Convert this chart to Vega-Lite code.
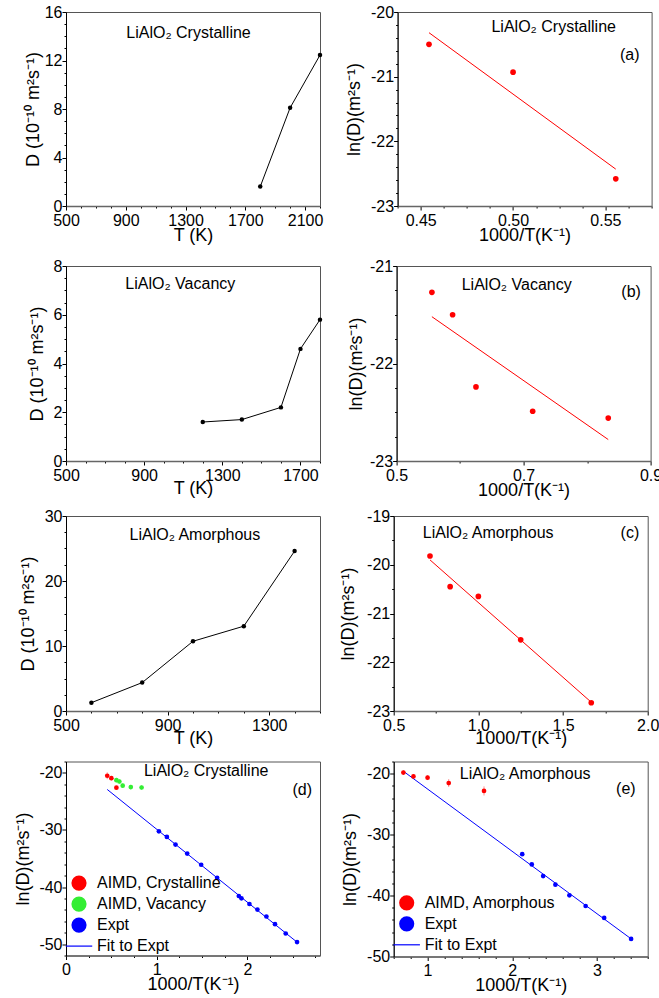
{
  "$schema": "https://vega.github.io/schema/vega-lite/v6.json",
  "padding": {"left": 13, "top": 3, "right": 0, "bottom": 0},
  "config": {
    "font": "Liberation Sans",
    "view": {"stroke": "#555", "strokeWidth": 1},
    "axis": {"grid": false, "domainColor": "#000", "tickColor": "#000", "labelColor": "#000", "titleColor": "#000", "labelFont": "Liberation Sans", "titleFont": "Liberation Sans", "labelFontSize": 16, "titleFontSize": 18, "titleFontWeight": "normal", "labelOverlap": false, "labelBound": false, "labelFlush": false, "labelPadding": 0, "titlePadding": 2},
    "axisX": {"domainColor": "#666", "domainWidth": 1.5, "labelPadding": 2, "titlePadding": -2}
  },
  "datasets": {
    "crys": [{"T": 1800, "D": 1.6}, {"T": 2000, "D": 8.1}, {"T": 2200, "D": 12.45}],
    "vac": [{"T": 1200, "D": 1.6}, {"T": 1400, "D": 1.7}, {"T": 1600, "D": 2.2}, {"T": 1700, "D": 4.6}, {"T": 1800, "D": 5.8}],
    "amor": [{"T": 600, "D": 1.28}, {"T": 800, "D": 4.37}, {"T": 1000, "D": 10.73}, {"T": 1200, "D": 13.05}, {"T": 1400, "D": 24.6}],
    "ln_crys": [{"invT": 0.4545, "lnD": -20.5}, {"invT": 0.5, "lnD": -20.93}, {"invT": 0.5556, "lnD": -22.58}],
    "fit_crys": [{"invT": 0.4545, "lnD": -20.32}, {"invT": 0.5556, "lnD": -22.43}],
    "ln_vac": [{"invT": 0.5556, "lnD": -21.27}, {"invT": 0.5882, "lnD": -21.5}, {"invT": 0.625, "lnD": -22.24}, {"invT": 0.7143, "lnD": -22.49}, {"invT": 0.8333, "lnD": -22.56}],
    "fit_vac": [{"invT": 0.5556, "lnD": -21.52}, {"invT": 0.8333, "lnD": -22.78}],
    "ln_amor": [{"invT": 0.7143, "lnD": -19.82}, {"invT": 0.8333, "lnD": -20.45}, {"invT": 1.0, "lnD": -20.65}, {"invT": 1.25, "lnD": -21.54}, {"invT": 1.6667, "lnD": -22.83}],
    "fit_amor": [{"invT": 0.7143, "lnD": -19.9}, {"invT": 1.6667, "lnD": -22.82}],
    "d_pts": [
      {"series": "AIMD, Crystalline", "invT": 0.4545, "lnD": -20.5},
      {"series": "AIMD, Crystalline", "invT": 0.5, "lnD": -20.93},
      {"series": "AIMD, Crystalline", "invT": 0.5556, "lnD": -22.58},
      {"series": "AIMD, Vacancy", "invT": 0.5556, "lnD": -21.27},
      {"series": "AIMD, Vacancy", "invT": 0.5882, "lnD": -21.5},
      {"series": "AIMD, Vacancy", "invT": 0.625, "lnD": -22.24},
      {"series": "AIMD, Vacancy", "invT": 0.7143, "lnD": -22.49},
      {"series": "AIMD, Vacancy", "invT": 0.8333, "lnD": -22.56},
      {"series": "Expt", "invT": 1.024, "lnD": -30.23},
      {"series": "Expt", "invT": 1.112, "lnD": -31.22},
      {"series": "Expt", "invT": 1.207, "lnD": -32.56},
      {"series": "Expt", "invT": 1.336, "lnD": -34.13},
      {"series": "Expt", "invT": 1.49, "lnD": -36.1},
      {"series": "Expt", "invT": 1.666, "lnD": -38.37},
      {"series": "Expt", "invT": 1.905, "lnD": -41.57},
      {"series": "Expt", "invT": 1.934, "lnD": -41.98},
      {"series": "Expt", "invT": 2.022, "lnD": -42.97},
      {"series": "Expt", "invT": 2.11, "lnD": -43.95},
      {"series": "Expt", "invT": 2.209, "lnD": -45.17},
      {"series": "Expt", "invT": 2.304, "lnD": -46.51},
      {"series": "Expt", "invT": 2.422, "lnD": -48.14},
      {"series": "Expt", "invT": 2.547, "lnD": -49.65}
    ],
    "d_err": [
      {"series": "AIMD, Crystalline", "invT": 0.4545, "lo": -21.1, "hi": -19.9},
      {"series": "AIMD, Crystalline", "invT": 0.5, "lo": -21.33, "hi": -20.53},
      {"series": "AIMD, Crystalline", "invT": 0.5556, "lo": -22.88, "hi": -22.28},
      {"series": "AIMD, Vacancy", "invT": 0.5556, "lo": -21.67, "hi": -20.87},
      {"series": "AIMD, Vacancy", "invT": 0.5882, "lo": -21.9, "hi": -21.1},
      {"series": "AIMD, Vacancy", "invT": 0.625, "lo": -22.64, "hi": -21.84},
      {"series": "AIMD, Vacancy", "invT": 0.7143, "lo": -22.89, "hi": -22.09},
      {"series": "AIMD, Vacancy", "invT": 0.8333, "lo": -22.96, "hi": -22.16}
    ],
    "fit_d": [{"invT": 0.4545, "lnD": -22.9}, {"invT": 2.55, "lnD": -49.7}],
    "e_pts": [
      {"series": "AIMD, Amorphous", "invT": 0.7143, "lnD": -19.82},
      {"series": "AIMD, Amorphous", "invT": 0.8333, "lnD": -20.45},
      {"series": "AIMD, Amorphous", "invT": 1.0, "lnD": -20.65},
      {"series": "AIMD, Amorphous", "invT": 1.25, "lnD": -21.54},
      {"series": "AIMD, Amorphous", "invT": 1.6667, "lnD": -22.83},
      {"series": "Expt", "invT": 2.118, "lnD": -33.2},
      {"series": "Expt", "invT": 2.231, "lnD": -34.89},
      {"series": "Expt", "invT": 2.365, "lnD": -36.8},
      {"series": "Expt", "invT": 2.51, "lnD": -38.22},
      {"series": "Expt", "invT": 2.675, "lnD": -39.96},
      {"series": "Expt", "invT": 2.867, "lnD": -41.71},
      {"series": "Expt", "invT": 3.086, "lnD": -43.67},
      {"series": "Expt", "invT": 3.404, "lnD": -47.11}
    ],
    "e_err": [
      {"invT": 0.7143, "lo": -20.2, "hi": -19.44},
      {"invT": 0.8333, "lo": -20.85, "hi": -20.05},
      {"invT": 1.0, "lo": -21.05, "hi": -20.25},
      {"invT": 1.25, "lo": -22.19, "hi": -20.89},
      {"invT": 1.6667, "lo": -23.58, "hi": -22.08}
    ],
    "fit_e": [{"invT": 0.7143, "lnD": -19.6}, {"invT": 3.404, "lnD": -47.1}]
  },
  "spacing": 12,
  "resolve": {"scale": {"color": "independent"}, "legend": {"color": "independent"}},
  "vconcat": [
    {
      "hconcat": [
        {
          "width": 254, "height": 194,
          "data": {"name": "crys"},
          "resolve": {"axis": {"x": "independent"}},
          "encoding": {
            "x": {"field": "T", "type": "quantitative", "scale": {"domain": [500, 2200], "nice": false, "zero": false},
              "axis": {"title": "T (K)", "values": [500,600,700,800,900,1000,1100,1200,1300,1400,1500,1600,1700,1800,1900,2000,2100,2200],
                "labelExpr": "indexof([500,900,1300,1700,2100], datum.value) >= 0 ? '' + datum.value : ''",
                "tickSize": {"condition": {"test": "indexof([500,900,1300,1700,2100], datum.value) >= 0", "value": 4}, "value": 2}}},
            "y": {"field": "D", "type": "quantitative", "scale": {"domain": [0, 16], "nice": false, "zero": false},
              "axis": {"title": "D (10⁻¹⁰ m²s⁻¹)", "titlePadding": 2, "values": [0,1,2,3,4,5,6,7,8,9,10,11,12,13,14,15,16],
                "labelExpr": "indexof([0,4,8,12,16], datum.value) >= 0 ? '' + datum.value : ''",
                "tickSize": {"condition": {"test": "indexof([0,4,8,12,16], datum.value) >= 0", "value": 4}, "value": 2}}}
          },
          "layer": [
            {"mark": {"type": "line", "color": "#000", "strokeWidth": 1}, "encoding": {}},
            {"mark": {"type": "point", "filled": true, "color": "#000", "size": 20, "opacity": 1},
              "encoding": {"x": {"field": "T", "type": "quantitative", "scale": {"domain": [500, 2200], "nice": false, "zero": false},
                "axis": {"orient": "top", "title": "LiAlO₂ Crystalline", "labels": false, "ticks": false, "domain": false, "values": [], "titleAngle": 0, "titleX": 122, "titleY": 25.4, "titleAlign": "center", "titleBaseline": "alphabetic", "titleFontSize": 16}}}}
          ]
        },
        {
          "width": 254, "height": 194,
          "resolve": {"axis": {"x": "independent", "y": "independent"}},
          "encoding": {
            "x": {"field": "invT", "type": "quantitative", "scale": {"domain": [0.4375, 0.575], "nice": false, "zero": false},
              "axis": {"title": "1000/T(K⁻¹)", "values": [0.4375,0.45,0.4625,0.475,0.4875,0.5,0.5125,0.525,0.5375,0.55,0.5625,0.575],
                "labelExpr": "indexof([0.45,0.5,0.55], datum.value) >= 0 ? format(datum.value, '.2f') : ''",
                "tickSize": {"condition": {"test": "indexof([0.45,0.5,0.55], datum.value) >= 0", "value": 4}, "value": 2}}},
            "y": {"field": "lnD", "type": "quantitative", "scale": {"domain": [-23, -20], "nice": false, "zero": false},
              "axis": {"title": "ln(D)(m²s⁻¹)", "titlePadding": 6.7, "values": [-23,-22.8,-22.6,-22.4,-22.2,-22,-21.8,-21.6,-21.4,-21.2,-21,-20.8,-20.6,-20.4,-20.2,-20],
                "labelExpr": "indexof([-23,-22,-21,-20], datum.value) >= 0 ? '' + datum.value : ''",
                "tickSize": {"condition": {"test": "indexof([-23,-22,-21,-20], datum.value) >= 0", "value": 4}, "value": 2}}}
          },
          "layer": [
            {"data": {"name": "fit_crys"}, "mark": {"type": "line", "color": "#ff0000", "strokeWidth": 1},
              "encoding": {
                "x": {"field": "invT", "type": "quantitative", "scale": {"domain": [0.4375, 0.575], "nice": false, "zero": false},
                  "axis": {"orient": "top", "title": "LiAlO₂ Crystalline", "labels": false, "ticks": false, "domain": false, "values": [], "titleAngle": 0, "titleX": 155.6, "titleY": 19.4, "titleAlign": "center", "titleBaseline": "alphabetic", "titleFontSize": 16}},
                "y": {"field": "lnD", "type": "quantitative", "scale": {"domain": [-23, -20], "nice": false, "zero": false},
                  "axis": {"orient": "right", "title": "(a)", "labels": false, "ticks": false, "domain": false, "values": [], "titleAngle": 0, "titleX": -22.4, "titleY": 47.7, "titleAlign": "center", "titleBaseline": "alphabetic", "titleFontSize": 16}}}},
            {"data": {"name": "ln_crys"}, "mark": {"type": "point", "filled": true, "color": "#ff0000", "size": 32, "opacity": 1}}
          ]
        }
      ],
      "spacing": 20.6
    },
    {
      "spacing": 7,
      "resolve": {"scale": {"color": "independent"}, "legend": {"color": "independent"}},
      "vconcat": [
        {
          "hconcat": [
            {
              "width": 254, "height": 195,
              "data": {"name": "vac"},
              "resolve": {"axis": {"x": "independent"}},
              "encoding": {
                "x": {"field": "T", "type": "quantitative", "scale": {"domain": [500, 1800], "nice": false, "zero": false},
                  "axis": {"title": "T (K)", "titlePadding": -3.5, "values": [500,600,700,800,900,1000,1100,1200,1300,1400,1500,1600,1700,1800],
                    "labelExpr": "indexof([500,900,1300,1700], datum.value) >= 0 ? '' + datum.value : ''",
                    "tickSize": {"condition": {"test": "indexof([500,900,1300,1700], datum.value) >= 0", "value": 4}, "value": 2}}},
                "y": {"field": "D", "type": "quantitative", "scale": {"domain": [0, 8], "nice": false, "zero": false},
                  "axis": {"title": "D (10⁻¹⁰ m²s⁻¹)", "titlePadding": 7, "values": [0,0.5,1,1.5,2,2.5,3,3.5,4,4.5,5,5.5,6,6.5,7,7.5,8],
                    "labelExpr": "indexof([0,2,4,6,8], datum.value) >= 0 ? '' + datum.value : ''",
                    "tickSize": {"condition": {"test": "indexof([0,2,4,6,8], datum.value) >= 0", "value": 4}, "value": 2}}}
              },
              "layer": [
                {"mark": {"type": "line", "color": "#000", "strokeWidth": 1}, "encoding": {}},
                {"mark": {"type": "point", "filled": true, "color": "#000", "size": 20, "opacity": 1},
                  "encoding": {"x": {"field": "T", "type": "quantitative", "scale": {"domain": [500, 1800], "nice": false, "zero": false},
                    "axis": {"orient": "top", "title": "LiAlO₂ Vacancy", "labels": false, "ticks": false, "domain": false, "values": [], "titleAngle": 0, "titleX": 113.8, "titleY": 22.3, "titleAlign": "center", "titleBaseline": "alphabetic", "titleFontSize": 16}}}}
              ]
            },
            {
              "width": 254, "height": 195,
              "resolve": {"axis": {"x": "independent", "y": "independent"}},
              "encoding": {
                "x": {"field": "invT", "type": "quantitative", "scale": {"domain": [0.5, 0.9], "nice": false, "zero": false},
                  "axis": {"title": "1000/T(K⁻¹)", "values": [0.5,0.6,0.7,0.8,0.9],
                    "labelExpr": "indexof([0.5,0.7,0.9], datum.value) >= 0 ? format(datum.value, '.1f') : ''",
                    "tickSize": {"condition": {"test": "indexof([0.5,0.7,0.9], datum.value) >= 0", "value": 4}, "value": 2}}},
                "y": {"field": "lnD", "type": "quantitative", "scale": {"domain": [-23, -21], "nice": false, "zero": false},
                  "axis": {"title": "ln(D)(m²s⁻¹)", "titlePadding": 3.7, "values": [-23,-22.75,-22.5,-22.25,-22,-21.75,-21.5,-21.25,-21],
                    "labelExpr": "indexof([-23,-22,-21], datum.value) >= 0 ? '' + datum.value : ''",
                    "tickSize": {"condition": {"test": "indexof([-23,-22,-21], datum.value) >= 0", "value": 4}, "value": 2}}}
              },
              "layer": [
                {"data": {"name": "fit_vac"}, "mark": {"type": "line", "color": "#ff0000", "strokeWidth": 1},
                  "encoding": {
                    "x": {"field": "invT", "type": "quantitative", "scale": {"domain": [0.5, 0.9], "nice": false, "zero": false},
                      "axis": {"orient": "top", "title": "LiAlO₂ Vacancy", "labels": false, "ticks": false, "domain": false, "values": [], "titleAngle": 0, "titleX": 119.6, "titleY": 23, "titleAlign": "center", "titleBaseline": "alphabetic", "titleFontSize": 16}},
                    "y": {"field": "lnD", "type": "quantitative", "scale": {"domain": [-23, -21], "nice": false, "zero": false},
                      "axis": {"orient": "right", "title": "(b)", "labels": false, "ticks": false, "domain": false, "values": [], "titleAngle": 0, "titleX": -20, "titleY": 30.7, "titleAlign": "center", "titleBaseline": "alphabetic", "titleFontSize": 16}}}},
                {"data": {"name": "ln_vac"}, "mark": {"type": "point", "filled": true, "color": "#ff0000", "size": 32, "opacity": 1}}
              ]
            }
          ],
          "spacing": 23.6
        },
        {
          "spacing": 4.5,
          "resolve": {"scale": {"color": "independent"}, "legend": {"color": "independent"}},
          "vconcat": [
            {
              "hconcat": [
                {
                  "width": 254, "height": 195,
                  "data": {"name": "amor"},
                  "resolve": {"axis": {"x": "independent"}},
                  "encoding": {
                    "x": {"field": "T", "type": "quantitative", "scale": {"domain": [500, 1500], "nice": false, "zero": false},
                      "axis": {"title": "T (K)", "titlePadding": -3.5, "values": [500,600,700,800,900,1000,1100,1200,1300,1400,1500],
                        "labelExpr": "indexof([500,900,1300], datum.value) >= 0 ? '' + datum.value : ''",
                        "tickSize": {"condition": {"test": "indexof([500,900,1300], datum.value) >= 0", "value": 4}, "value": 2}}},
                    "y": {"field": "D", "type": "quantitative", "scale": {"domain": [0, 30], "nice": false, "zero": false},
                      "axis": {"title": "D (10⁻¹⁰ m²s⁻¹)", "titlePadding": 6.5, "values": [0,2.5,5,7.5,10,12.5,15,17.5,20,22.5,25,27.5,30],
                        "labelExpr": "indexof([0,10,20,30], datum.value) >= 0 ? '' + datum.value : ''",
                        "tickSize": {"condition": {"test": "indexof([0,10,20,30], datum.value) >= 0", "value": 4}, "value": 2}}}
                  },
                  "layer": [
                    {"mark": {"type": "line", "color": "#000", "strokeWidth": 1}, "encoding": {}},
                    {"mark": {"type": "point", "filled": true, "color": "#000", "size": 20, "opacity": 1},
                      "encoding": {"x": {"field": "T", "type": "quantitative", "scale": {"domain": [500, 1500], "nice": false, "zero": false},
                        "axis": {"orient": "top", "title": "LiAlO₂ Amorphous", "labels": false, "ticks": false, "domain": false, "values": [], "titleAngle": 0, "titleX": 128.4, "titleY": 23.3, "titleAlign": "center", "titleBaseline": "alphabetic", "titleFontSize": 16}}}}
                  ]
                },
                {
                  "width": 254, "height": 195,
                  "resolve": {"axis": {"x": "independent", "y": "independent"}},
                  "encoding": {
                    "x": {"field": "invT", "type": "quantitative", "scale": {"domain": [0.5, 2.0], "nice": false, "zero": false},
                      "axis": {"title": "1000/T(K⁻¹)", "titlePadding": -4, "values": [0.5,0.75,1,1.25,1.5,1.75,2],
                        "labelExpr": "indexof([0.5,1,1.5,2], datum.value) >= 0 ? format(datum.value, '.1f') : ''",
                        "tickSize": {"condition": {"test": "indexof([0.5,1,1.5,2], datum.value) >= 0", "value": 4}, "value": 2}}},
                    "y": {"field": "lnD", "type": "quantitative", "scale": {"domain": [-23, -19], "nice": false, "zero": false},
                      "axis": {"title": "ln(D)(m²s⁻¹)", "titlePadding": 8.7, "values": [-23,-22.5,-22,-21.5,-21,-20.5,-20,-19.5,-19],
                        "labelExpr": "indexof([-23,-22,-21,-20,-19], datum.value) >= 0 ? '' + datum.value : ''",
                        "tickSize": {"condition": {"test": "indexof([-23,-22,-21,-20,-19], datum.value) >= 0", "value": 4}, "value": 2}}}
                  },
                  "layer": [
                    {"data": {"name": "fit_amor"}, "mark": {"type": "line", "color": "#ff0000", "strokeWidth": 1},
                      "encoding": {
                        "x": {"field": "invT", "type": "quantitative", "scale": {"domain": [0.5, 2.0], "nice": false, "zero": false},
                          "axis": {"orient": "top", "title": "LiAlO₂ Amorphous", "labels": false, "ticks": false, "domain": false, "values": [], "titleAngle": 0, "titleX": 94, "titleY": 21.7, "titleAlign": "center", "titleBaseline": "alphabetic", "titleFontSize": 16}},
                        "y": {"field": "lnD", "type": "quantitative", "scale": {"domain": [-23, -19], "nice": false, "zero": false},
                          "axis": {"orient": "right", "title": "(c)", "labels": false, "ticks": false, "domain": false, "values": [], "titleAngle": 0, "titleX": -18.3, "titleY": 21.7, "titleAlign": "center", "titleBaseline": "alphabetic", "titleFontSize": 16}}}},
                    {"data": {"name": "ln_amor"}, "mark": {"type": "point", "filled": true, "color": "#ff0000", "size": 32, "opacity": 1}}
                  ]
                }
              ],
              "spacing": 17.7
            },
            {
              "hconcat": [
                {
                  "width": 254, "height": 194,
                  "resolve": {"axis": {"x": "independent", "y": "independent"}},
                  "encoding": {
                    "x": {"field": "invT", "type": "quantitative", "scale": {"domain": [0, 2.8], "nice": false, "zero": false},
                      "axis": {"title": "1000/T(K⁻¹)", "values": [0,0.25,0.5,0.75,1,1.25,1.5,1.75,2,2.25,2.5,2.75],
                        "labelExpr": "indexof([0,1,2], datum.value) >= 0 ? '' + datum.value : ''",
                        "tickSize": {"condition": {"test": "indexof([0,1,2], datum.value) >= 0", "value": 4}, "value": 2}}},
                    "y": {"field": "lnD", "type": "quantitative", "scale": {"domain": [-52, -18], "nice": false, "zero": false},
                      "axis": {"title": "ln(D)(m²s⁻¹)", "titlePadding": 6.5, "values": [-52,-50,-48,-46,-44,-42,-40,-38,-36,-34,-32,-30,-28,-26,-24,-22,-20,-18],
                        "labelExpr": "indexof([-50,-40,-30,-20], datum.value) >= 0 ? '' + datum.value : ''",
                        "tickSize": {"condition": {"test": "indexof([-50,-40,-30,-20], datum.value) >= 0", "value": 4}, "value": 2}}}
                  },
                  "layer": [
                    {"data": {"name": "d_err"}, "transform": [{"filter": "datum.series == 'AIMD, Crystalline'"}],
                      "mark": {"type": "rule", "color": "#ff9090", "strokeWidth": 1},
                      "encoding": {"x": {"field": "invT", "type": "quantitative", "scale": {"domain": [0, 2.8], "nice": false, "zero": false}, "axis": null},
                        "y": {"field": "lo", "type": "quantitative", "scale": {"domain": [-52, -18], "nice": false, "zero": false}, "axis": null}, "y2": {"field": "hi"}}},
                    {"data": {"name": "d_err"}, "transform": [{"filter": "datum.series == 'AIMD, Vacancy'"}],
                      "mark": {"type": "rule", "color": "#90f090", "strokeWidth": 1},
                      "encoding": {"x": {"field": "invT", "type": "quantitative", "scale": {"domain": [0, 2.8], "nice": false, "zero": false}, "axis": null},
                        "y": {"field": "lo", "type": "quantitative", "scale": {"domain": [-52, -18], "nice": false, "zero": false}, "axis": null}, "y2": {"field": "hi"}}},
                    {"data": {"name": "fit_d"}, "mark": {"type": "line", "color": "#0000ff", "strokeWidth": 1},
                      "encoding": {
                        "x": {"field": "invT", "type": "quantitative", "scale": {"domain": [0, 2.8], "nice": false, "zero": false},
                          "axis": {"orient": "top", "title": "LiAlO₂ Crystalline", "labels": false, "ticks": false, "domain": false, "values": [], "titleAngle": 0, "titleX": 139.7, "titleY": 13.6, "titleAlign": "center", "titleBaseline": "alphabetic", "titleFontSize": 16}},
                        "y": {"field": "lnD", "type": "quantitative", "scale": {"domain": [-52, -18], "nice": false, "zero": false},
                          "axis": {"orient": "right", "title": "(d)", "labels": false, "ticks": false, "domain": false, "values": [], "titleAngle": 0, "titleX": -18.3, "titleY": 33.3, "titleAlign": "center", "titleBaseline": "alphabetic", "titleFontSize": 16}}}},
                    {"data": {"name": "d_pts"}, "mark": {"type": "point", "filled": true, "size": 22, "opacity": 1},
                      "encoding": {"color": {"field": "series", "type": "nominal",
                        "scale": {"domain": ["AIMD, Crystalline", "AIMD, Vacancy", "Expt", "Fit to Expt"], "range": ["#ff0000", "#33ee33", "#0000ff", "#0000ff"]},
                        "legend": {"title": null, "orient": "none", "legendX": 5, "legendY": 113.6, "padding": 0, "symbolType": "circle", "symbolSize": 230, "symbolStrokeWidth": 0, "symbolOpacity": 1,
                          "labelFontSize": 16, "labelFont": "Liberation Sans", "labelColor": "#000", "labelOffset": 10, "rowPadding": 5,
                          "encode": {"symbols": {"update": {
                            "shape": {"signal": "datum.label === 'Fit to Expt' ? 'stroke' : 'circle'"},
                            "size": {"signal": "datum.label === 'Fit to Expt' ? 700 : 230"},
                            "stroke": {"value": "#0000ff"},
                            "strokeWidth": {"signal": "datum.label === 'Fit to Expt' ? 1.2 : 0"}}}}}}}}
                  ]
                },
                {
                  "width": 254, "height": 195,
                  "resolve": {"axis": {"x": "independent", "y": "independent"}},
                  "encoding": {
                    "x": {"field": "invT", "type": "quantitative", "scale": {"domain": [0.6, 3.6], "nice": false, "zero": false},
                      "axis": {"title": "1000/T(K⁻¹)", "values": [0.6,0.8,1,1.2,1.4,1.6,1.8,2,2.2,2.4,2.6,2.8,3,3.2,3.4,3.6],
                        "labelExpr": "indexof([1,2,3], datum.value) >= 0 ? '' + datum.value : ''",
                        "tickSize": {"condition": {"test": "indexof([1,2,3], datum.value) >= 0", "value": 4}, "value": 2}}},
                    "y": {"field": "lnD", "type": "quantitative", "scale": {"domain": [-50, -18], "nice": false, "zero": false},
                      "axis": {"title": "ln(D)(m²s⁻¹)", "titlePadding": 7.5, "values": [-50,-48,-46,-44,-42,-40,-38,-36,-34,-32,-30,-28,-26,-24,-22,-20,-18],
                        "labelExpr": "indexof([-50,-40,-30,-20], datum.value) >= 0 ? '' + datum.value : ''",
                        "tickSize": {"condition": {"test": "indexof([-50,-40,-30,-20], datum.value) >= 0", "value": 4}, "value": 2}}}
                  },
                  "layer": [
                    {"data": {"name": "e_err"},
                      "mark": {"type": "rule", "color": "#ff9090", "strokeWidth": 1},
                      "encoding": {"x": {"field": "invT", "type": "quantitative", "scale": {"domain": [0.6, 3.6], "nice": false, "zero": false}, "axis": null},
                        "y": {"field": "lo", "type": "quantitative", "scale": {"domain": [-50, -18], "nice": false, "zero": false}, "axis": null}, "y2": {"field": "hi"}}},
                    {"data": {"name": "fit_e"}, "mark": {"type": "line", "color": "#0000ff", "strokeWidth": 1},
                      "encoding": {
                        "x": {"field": "invT", "type": "quantitative", "scale": {"domain": [0.6, 3.6], "nice": false, "zero": false},
                          "axis": {"orient": "top", "title": "LiAlO₂ Amorphous", "labels": false, "ticks": false, "domain": false, "values": [], "titleAngle": 0, "titleX": 131, "titleY": 17.3, "titleAlign": "center", "titleBaseline": "alphabetic", "titleFontSize": 16}},
                        "y": {"field": "lnD", "type": "quantitative", "scale": {"domain": [-50, -18], "nice": false, "zero": false},
                          "axis": {"orient": "right", "title": "(e)", "labels": false, "ticks": false, "domain": false, "values": [], "titleAngle": 0, "titleX": -22.3, "titleY": 31.6, "titleAlign": "center", "titleBaseline": "alphabetic", "titleFontSize": 16}}}},
                    {"data": {"name": "e_pts"}, "mark": {"type": "point", "filled": true, "size": 22, "opacity": 1},
                      "encoding": {"color": {"field": "series", "type": "nominal",
                        "scale": {"domain": ["AIMD, Amorphous", "Expt", "Fit to Expt"], "range": ["#ff0000", "#0000ff", "#0000ff"]},
                        "legend": {"title": null, "orient": "none", "legendX": 5, "legendY": 133.3, "padding": 0, "symbolType": "circle", "symbolSize": 230, "symbolStrokeWidth": 0, "symbolOpacity": 1,
                          "labelFontSize": 16, "labelFont": "Liberation Sans", "labelColor": "#000", "labelOffset": 10, "rowPadding": 5,
                          "encode": {"symbols": {"update": {
                            "shape": {"signal": "datum.label === 'Fit to Expt' ? 'stroke' : 'circle'"},
                            "size": {"signal": "datum.label === 'Fit to Expt' ? 700 : 230"},
                            "stroke": {"value": "#0000ff"},
                            "strokeWidth": {"signal": "datum.label === 'Fit to Expt' ? 1.2 : 0"}}}}}}}}
                  ]
                }
              ],
              "spacing": 18.7,
              "resolve": {"scale": {"color": "independent"}, "legend": {"color": "independent"}}
            }
          ]
        }
      ]
    }
  ]
}
